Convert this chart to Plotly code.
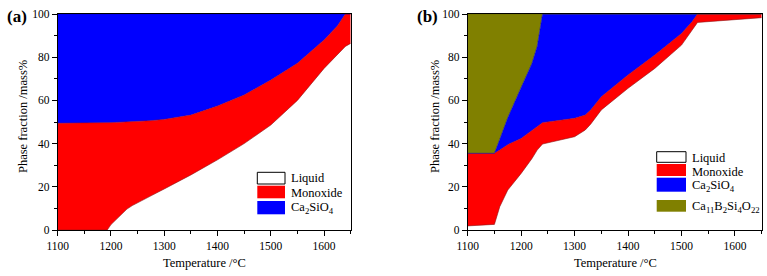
import plotly.graph_objects as go

# ---- Panel (a) data: phase fractions (mass%) ----
T_a = [1100, 1150, 1193, 1200, 1210, 1220, 1230, 1240, 1250, 1275, 1300, 1350, 1400, 1450, 1500, 1550, 1600, 1625, 1640, 1650]
liquid_a = [0, 0, 0, 2.5, 5, 7.5, 9.7, 11.3, 12.7, 15.8, 19, 25.5, 32.5, 40, 48.6, 60, 74.8, 81, 85, 86.4]
ca2sio4_a = [50.6, 50.6, 50.4, 50.3, 50.2, 50.1, 50.0, 49.9, 49.8, 49.4, 48.8, 46.8, 42.6, 37.5, 30.6, 22.8, 12, 5.5, 0, 0]
monoxide_a = [round(100 - l - c, 2) for l, c in zip(liquid_a, ca2sio4_a)]

# ---- Panel (b) data ----
T_b = [1100, 1150, 1160, 1175, 1200, 1220, 1230, 1240, 1300, 1320, 1330, 1350, 1400, 1450, 1500, 1520, 1530, 1650]
liquid_b = [1.9, 2.6, 10.8, 18.5, 26.2, 33, 37, 39.8, 43.2, 46.3, 49, 55.6, 65.6, 74.8, 85.6, 92.5, 96.1, 98.3]
monoxide_b = [33.6, 32.9, 26.2, 21, 16.2, 13, 11, 9.9, 8.5, 6.9, 6.5, 6.1, 6.2, 6.2, 5.4, 4, 3.9, 1.7]
ca2sio4_b = [0, 0, 5, 12.5, 23.6, 31, 37, 50.3, 48.3, 46.8, 44.5, 38.3, 28.2, 19, 9, 3.5, 0, 0]
cabsio_b = [64.5, 64.5, 58, 48, 34, 23, 15, 0, 0, 0, 0, 0, 0, 0, 0, 0, 0, 0]

x_ticks = [1100, 1200, 1300, 1400, 1500, 1600]
y_ticks = [0, 20, 40, 60, 80, 100]

names_a = ["Liquid", "Monoxide", "Ca<sub>2</sub>SiO<sub>4</sub>"]
names_b = ["Liquid", "Monoxide", "Ca<sub>2</sub>SiO<sub>4</sub>", "Ca<sub>11</sub>B<sub>2</sub>Si<sub>4</sub>O<sub>22</sub>"]

WHITE = "#FFFFFF"
RED = "#FF0000"
BLUE = "#0000FF"
OLIVE = "#808000"
FILLS = [WHITE, RED, BLUE, OLIVE]
EDGES = ["#8a1a1a", "#c00000", "#0000c0", "#6a6a00"]
FONT = "Liberation Serif"

fig = go.Figure()

def add(x, y, i, name, xa, ya, group):
    fig.add_trace(go.Scatter(
        x=x, y=y, name=name, mode="lines", stackgroup=group,
        fillcolor=FILLS[i], line=dict(color=EDGES[i], width=0.6),
        xaxis=xa, yaxis=ya, showlegend=False, hoverinfo="x+y+name",
    ))

for i, ys in enumerate([liquid_a, monoxide_a, ca2sio4_a]):
    add(T_a, ys, i, names_a[i], "x", "y", "a")
for i, ys in enumerate([liquid_b, monoxide_b, ca2sio4_b, cabsio_b]):
    add(T_b, ys, i, names_b[i], "x2", "y2", "b")

W, H = 767, 276
ydom = [46 / H, 262 / H]

axis_common = dict(
    showline=True, linecolor="black", linewidth=1, mirror=True,
    ticks="outside", ticklen=5, tickwidth=1, tickcolor="black",
    showgrid=False, zeroline=False, automargin=False,
    tickfont=dict(family=FONT, size=11.5, color="black"),
)

xcommon = dict(axis_common, range=[1100, 1650], tickvals=x_ticks,
               minor=dict(ticks="outside", ticklen=3, tickwidth=1, tickcolor="black", dtick=50, tick0=1100))
ycommon = dict(axis_common, range=[0, 100], tickvals=y_ticks,
               minor=dict(ticks="outside", ticklen=3, tickwidth=1, tickcolor="black", dtick=10, tick0=0))

fig.update_layout(
    width=W, height=H,
    margin=dict(l=0, r=0, t=0, b=0, autoexpand=False),
    paper_bgcolor="white", plot_bgcolor="white",
    font=dict(family=FONT, color="black"),
    xaxis=dict(xcommon, domain=[57.7 / W, 350.7 / W], anchor="y"),
    yaxis=dict(ycommon, domain=ydom, anchor="x"),
    xaxis2=dict(xcommon, domain=[467.7 / W, 761.7 / W], anchor="y2"),
    yaxis2=dict(ycommon, domain=ydom, anchor="x2"),
    showlegend=False,
)

# ---- hand-drawn legends (paper pixel positions) ----
def px(x):
    return x / W

def py(y):
    return 1 - y / H

leg_a = [(172.3, 184.0, 178.3), (185.7, 198.3, 192.7), (201.0, 214.3, 207.7)]
leg_b = [(151.7, 162.3, 157.7), (164.0, 176.0, 172.3), (177.7, 191.7, 186.3), (200.0, 211.7, 206.7)]

def legend(entries, names, x0, x1, xt):
    for i, (y0, y1, yt) in enumerate(entries):
        fig.add_shape(type="rect", xref="paper", yref="paper",
                      x0=px(x0), x1=px(x1), y0=py(y1), y1=py(y0),
                      fillcolor=FILLS[i],
                      line=dict(color="black" if i == 0 else FILLS[i], width=1 if i == 0 else 0))
        fig.add_annotation(xref="paper", yref="paper", x=px(xt), y=py(yt),
                           text=names[i], showarrow=False, xanchor="left", yanchor="middle",
                           font=dict(family=FONT, size=12.5, color="black"))

legend(leg_a, names_a, 257.3, 285.0, 288.5)
legend(leg_b, names_b, 656.7, 686.0, 689.5)

ann = [
    dict(text="<b>(a)</b>", x=17 / W, y=1 - 16 / H, font=dict(size=17)),
    dict(text="<b>(b)</b>", x=427 / W, y=1 - 16 / H, font=dict(size=17)),
    dict(text="Temperature /°C", x=204 / W, y=1 - 263 / H, font=dict(size=12.5)),
    dict(text="Temperature /°C", x=615 / W, y=1 - 263 / H, font=dict(size=12.5)),
    dict(text="Phase fraction /mass%", x=23 / W, y=1 - 117 / H, textangle=-90, font=dict(size=12.5)),
    dict(text="Phase fraction /mass%", x=435 / W, y=1 - 117 / H, textangle=-90, font=dict(size=12.5)),
]
for a in ann:
    fig.add_annotation(xref="paper", yref="paper", showarrow=False,
                       xanchor="center", yanchor="middle", **a)

fig.write_html("out.html", config={"displayModeBar": False},
               post_script="document.body.style.margin='0';document.body.style.overflow='hidden';")
